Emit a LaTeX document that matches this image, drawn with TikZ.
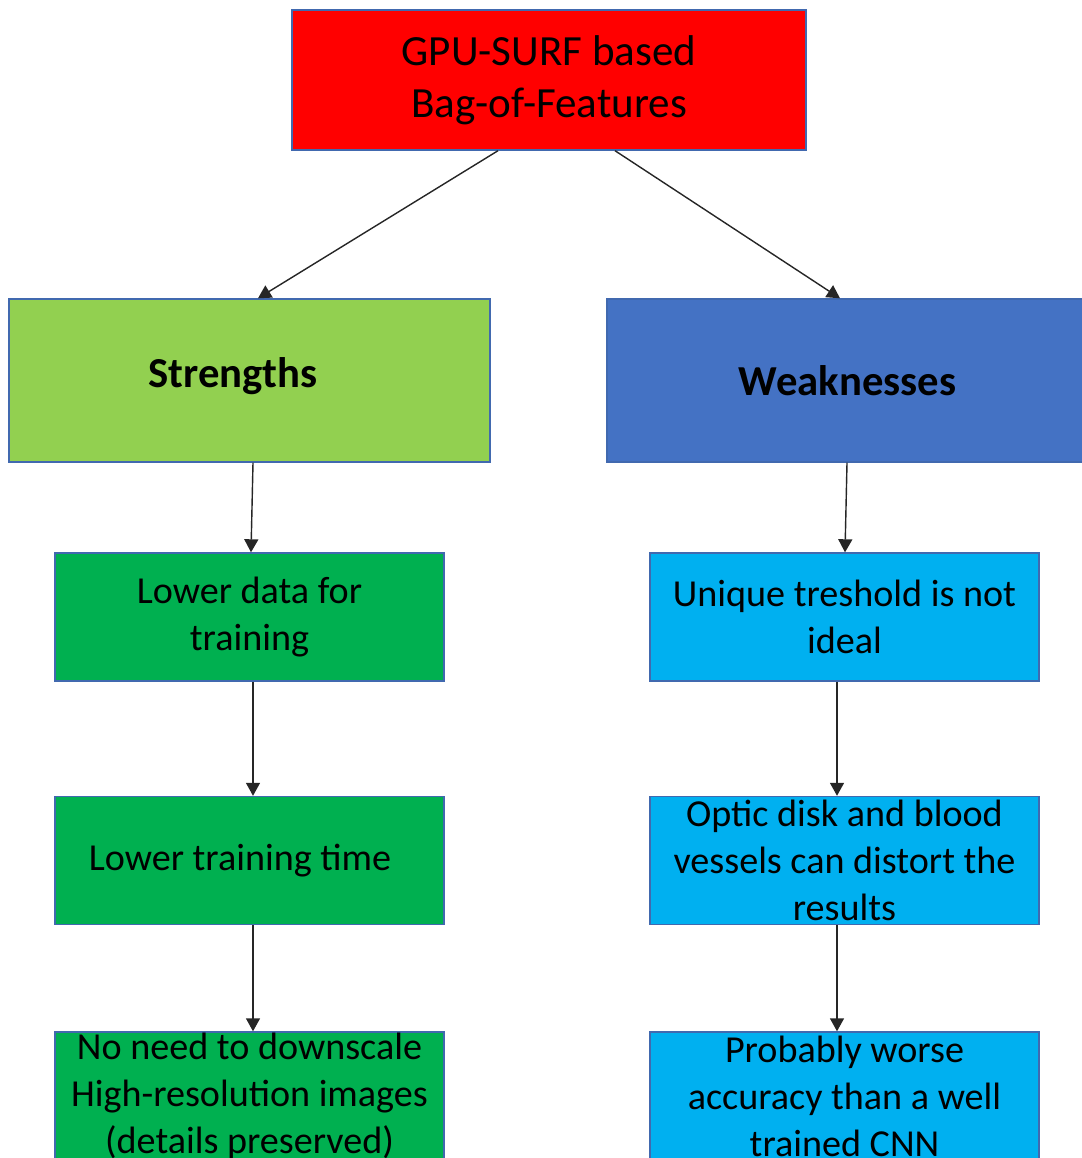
\documentclass[tikz,border=0pt]{standalone}
\usepackage{fontspec}
\setmainfont{Carlito}
\usetikzlibrary{arrows.meta}
\definecolor{edgeblue}{RGB}{65,105,175}
\definecolor{topred}{RGB}{255,0,0}
\definecolor{lightgreen}{RGB}{146,208,80}
\definecolor{midblue}{RGB}{68,114,196}
\definecolor{darkgreen}{RGB}{0,176,80}
\definecolor{skyblue}{RGB}{0,176,240}
\tikzset{
  box/.style={draw=edgeblue, line width=0.8pt, inner sep=0pt, align=center,
    font=\fontsize{21.7}{26.7}\selectfont},
  headbox/.style={box, minimum width=9.62cm, minimum height=3.26cm,
    font=\fontsize{24.3}{29}\selectfont\bfseries},
  itembox/.style={box, minimum width=7.78cm, minimum height=2.56cm},
  link/.style={->, draw=black!85, line width=0.8pt}
}
\begin{document}
\begin{tikzpicture}[>={Triangle[length=2.6mm,width=2.8mm]}]
    \useasboundingbox (0, 0) rectangle (21.62, -23.16);
    \node[box, fill=topred, minimum width=10.28cm, minimum height=2.8cm,
      font=\fontsize{24.5}{29.5}\selectfont] (gpu) at (10.98, -1.6)
      {GPU-SURF based\\Bag-of-Features};
    \node[headbox, fill=lightgreen] (str) at (4.99, -7.61)
      {\raisebox{0.32cm}{Strengths}\hspace{0.66cm}};
    \node[headbox, fill=midblue] (weak) at (16.95, -7.61) {Weaknesses};
    % strengths column
    \node[itembox, fill=darkgreen] (lowdata) at (4.99, -12.34)
      {Lower data for\\training};
    \node[itembox, fill=darkgreen] (lowtime) at (4.99, -17.21)
      {Lower training time\hspace{0.38cm}};
    \node[itembox, fill=darkgreen] (noscale) at (4.99, -21.92)
      {No need to downscale\\High-resolution images\\(details preserved)};
    % weaknesses column
    \node[itembox, fill=skyblue] (thresh) at (16.89, -12.34)
      {Unique treshold is not\\ideal};
    \node[itembox, fill=skyblue] (optic) at (16.89, -17.21)
      {Optic disk and blood\\vessels can distort the\\results};
    \node[itembox, fill=skyblue] (worse) at (16.89, -21.92)
      {Probably worse\\accuracy than a well\\trained CNN};
    \draw[link] ([xshift=-1.02cm]gpu.south) -- ([xshift=0.17cm]str.north);
    \draw[link] ([xshift=1.32cm]gpu.south) -- ([xshift=-0.15cm]weak.north);
    \draw[link] ([xshift=0.07cm]str.south) -- ([xshift=0.03cm]lowdata.north);
    \draw[link] ([xshift=0.07cm]lowdata.south) -- ([xshift=0.07cm]lowtime.north);
    \draw[link] ([xshift=0.07cm]lowtime.south) -- ([xshift=0.07cm]noscale.north);
    \draw[link] ([xshift=-0.01cm]weak.south) -- ([xshift=0.01cm]thresh.north);
    \draw[link] ([xshift=-0.15cm]thresh.south) -- ([xshift=-0.15cm]optic.north);
    \draw[link] ([xshift=-0.15cm]optic.south) -- ([xshift=-0.15cm]worse.north);
\end{tikzpicture}
\end{document}
